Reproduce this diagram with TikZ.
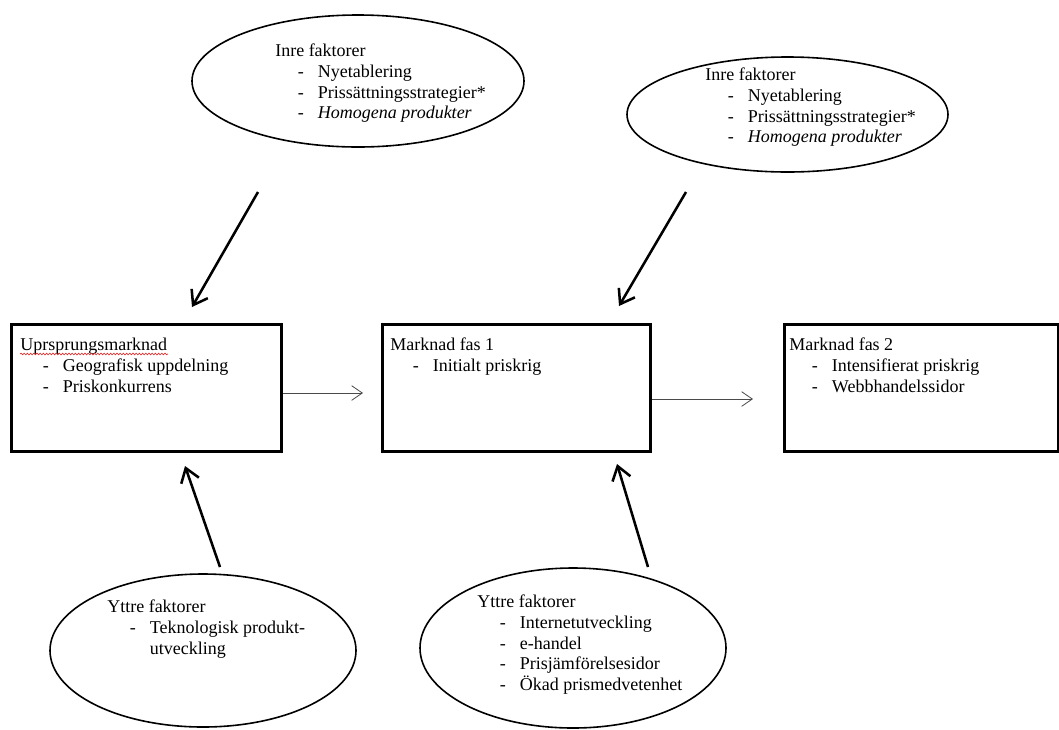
\documentclass[tikz,border=0pt]{standalone}
\usepackage{fontspec}
\setmainfont{Liberation Serif}
\usetikzlibrary{arrows.meta, shapes.geometric, decorations.pathmorphing, positioning}
\definecolor{spellRed}{HTML}{E0302C}
\definecolor{flowGrey}{HTML}{4A4A4A}
\tikzset{
  marketbox/.style  = {draw, line width=2pt, rectangle, anchor=north west,
                       inner sep=0pt, minimum height=95.25pt},
  factorell/.style  = {draw, line width=1.2pt, ellipse, inner sep=0pt},
  txt/.style        = {anchor=north west, align=left, inner sep=0pt,
                       font=\fontsize{13.5}{15.5}\selectfont},
  influence/.style  = {-{Straight Barb[length=10pt,width=14pt]}, line width=1.9pt},
  flow/.style       = {-{Straight Barb[length=8pt,width=11pt]}, line width=0.6pt, flowGrey},
  spellmark/.style  = {spellRed, line width=0.5pt, decorate,
                       decoration={snake, amplitude=0.6pt, segment length=2.4pt}},
}
\newcommand{\punkt}[1]{\hspace*{17pt}\makebox[15pt][l]{-}#1}

\begin{document}
\begin{tikzpicture}[x=0.75pt, y=-0.75pt]
  \useasboundingbox (0,0) rectangle (1059,729);

  % marknader
  \node[marketbox, minimum width=202.5pt] (urspr) at (10,323) {};
  \node[marketbox, minimum width=201pt]   (fas1)  at (381,323) {};
  \node[marketbox, minimum width=205.5pt] (fas2)  at (783,323) {};

  \node[txt] (ursprtxt) at (20,338)
    {Uprsprungsmarknad\\ \punkt{Geografisk uppdelning}\\ \punkt{Priskonkurrens}};
  \node[txt] (fas1txt) at (390,338)
    {Marknad fas 1\\ \punkt{Initialt priskrig}};
  \node[txt] (fas2txt) at (789,338)
    {Marknad fas 2\\ \punkt{Intensifierat priskrig}\\ \punkt{Webbhandelssidor}};
  \draw[spellmark] (20,354) -- (168,354);

  % faktorer
  \node[factorell, minimum width=249pt, minimum height=99pt]       (inreA)  at (358,81) {};
  \node[factorell, minimum width=240.75pt, minimum height=86.25pt] (inreB)  at (787.5,114.5) {};
  \node[factorell, minimum width=229.5pt, minimum height=114.75pt] (yttreA) at (203,650.5) {};
  \node[factorell, minimum width=229.5pt, minimum height=120pt]    (yttreB) at (573,648) {};

  \node[txt] (inreAtxt) at (275,44)
    {Inre faktorer\\ \punkt{Nyetablering}\\ \punkt{Prissättningsstrategier*}\\
     \punkt{\textit{Homogena produkter}}};
  \node[txt] (inreBtxt) at (705,68)
    {Inre faktorer\\ \punkt{Nyetablering}\\ \punkt{Prissättningsstrategier*}\\
     \punkt{\textit{Homogena produkter}}};
  \node[txt] (yttreAtxt) at (107,600)
    {Yttre faktorer\\ \punkt{Teknologisk produkt-}\\ \hspace*{32pt}utveckling};
  \node[txt] (yttreBtxt) at (477,595)
    {Yttre faktorer\\ \punkt{Internetutveckling}\\ \punkt{e-handel}\\
     \punkt{Prisjämförelsesidor}\\ \punkt{Ökad prismedvetenhet}};

  % pilar
  \coordinate (inreA-s)  at (258,192);  \coordinate (inreA-t)  at (192,307);
  \coordinate (inreB-s)  at (686,192);  \coordinate (inreB-t)  at (619,306);
  \coordinate (yttreA-s) at (220,567);  \coordinate (yttreA-t) at (185,466);
  \coordinate (yttreB-s) at (648,567);  \coordinate (yttreB-t) at (617,464);
  \coordinate (flowA) at (363,393);
  \coordinate (flowB) at (753,399);

  \draw[influence] (inreA-s) -- (inreA-t);
  \draw[influence] (inreB-s) -- (inreB-t);
  \draw[influence] (yttreA-s) -- (yttreA-t);
  \draw[influence] (yttreB-s) -- (yttreB-t);
  \draw[flow] (urspr.east |- flowA) -- (flowA);
  \draw[flow] (fas1.east |- flowB) -- (flowB);
\end{tikzpicture}
\end{document}
